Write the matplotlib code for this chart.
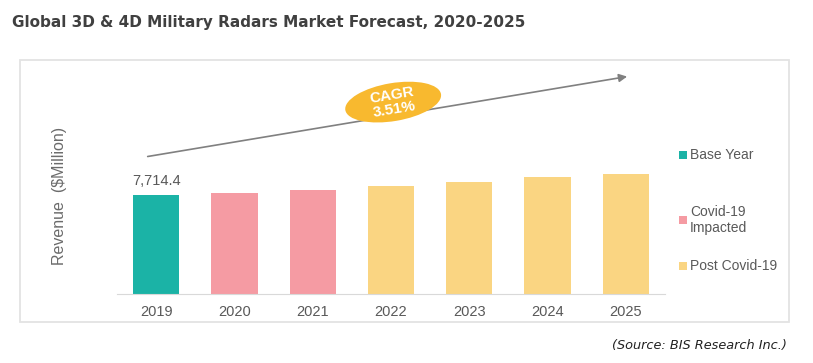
import matplotlib.pyplot as plt
import matplotlib.transforms as transforms
from matplotlib.patches import Ellipse, Rectangle

years = ['2019', '2020', '2021', '2022', '2023', '2024', '2025']
revenue = [7714.4, 7816, 8103, 8414, 8670, 9059, 9346]
phase = ['base', 'covid', 'covid', 'post', 'post', 'post', 'post']

phase_labels = {'base': 'Base Year', 'covid': 'Covid-19\nImpacted', 'post': 'Post Covid-19'}
phase_colors = {'base': '#1BB3A6', 'covid': '#F59BA3', 'post': '#FAD582'}
cagr_text = 'CAGR\n3.51%'

plt.rcParams['font.family'] = ['Liberation Sans', 'DejaVu Sans']
grey = '#595959'

fig = plt.figure(figsize=(8.13, 3.63), dpi=100)
ax = fig.add_axes([0.1439, 0.190, 0.674, 0.617])

colors = [phase_colors[p] for p in phase]
bars = ax.bar(range(len(years)), revenue, width=0.59, color=colors)
ax.set_xlim(-0.5, len(years) - 0.5)
ax.set_ylim(0, 17400)

# only the first value is labelled
ax.text(0, revenue[0] + 500, f'{revenue[0]:,.1f}', ha='center', va='bottom',
        fontsize=10.5, color=grey)

ax.set_xticks(range(len(years)))
ax.set_xticklabels(years, fontsize=10.5, color=grey)
ax.tick_params(axis='x', length=0, pad=8)
ax.set_yticks([])
for s in ['top', 'right', 'left']:
    ax.spines[s].set_visible(False)
ax.spines['bottom'].set_color('#D9D9D9')
ax.set_ylabel('Revenue  ($Million)', fontsize=11.5, color='#6b6b6b')
ax.yaxis.set_label_coords(-0.092, 0.44)

# CAGR arrow and bubble
ax.annotate('', xy=(0.936, 0.973), xytext=(0.051, 0.612), xycoords='axes fraction',
            arrowprops=dict(arrowstyle='-|>', color='#808080', lw=1.2,
                            mutation_scale=12), annotation_clip=False)
trans = fig.dpi_scale_trans + transforms.ScaledTranslation(0.504, 0.857, ax.transAxes)
ax.add_patch(Ellipse((0, 0), 0.97, 0.38, angle=9.5, transform=trans,
                     facecolor='#F8B92F', edgecolor='none', clip_on=False, zorder=5))
ax.text(0.504, 0.857, cagr_text, transform=ax.transAxes, ha='center', va='center',
        rotation=9.5, color='white', fontsize=11, fontweight='bold',
        linespacing=1.0, zorder=6)

# legend drawn by hand to get the spacing right
legend_y = [155, 220, 266]
for key, yp in zip(['base', 'covid', 'post'], legend_y):
    yf = 1 - yp / 363
    fig.patches.append(Rectangle((679 / 813, yf - 4 / 363), 8 / 813, 8 / 363,
                                 transform=fig.transFigure, figure=fig,
                                 facecolor=phase_colors[key], edgecolor='none'))
    fig.text(690 / 813, yf, phase_labels[key], ha='left', va='center',
             fontsize=10, color=grey, linespacing=1.2)

# outer frame
fig.patches.append(Rectangle((20 / 813, 1 - 322 / 363), 769 / 813, 262 / 363,
                             transform=fig.transFigure, figure=fig,
                             facecolor='none', edgecolor='#E3E3E3', lw=1.3))

fig.text(12 / 813, 1 - 22 / 363, 'Global 3D & 4D Military Radars Market Forecast, 2020-2025',
         family='DejaVu Sans', fontweight='bold', fontsize=11, color='#404040',
         ha='left', va='center')
fig.text(787 / 813, 1 - 345 / 363, '(Source: BIS Research Inc.)', family='DejaVu Sans',
         style='italic', fontsize=9.3, color='#222222', ha='right', va='center')

fig.savefig('out.png', dpi=100)
